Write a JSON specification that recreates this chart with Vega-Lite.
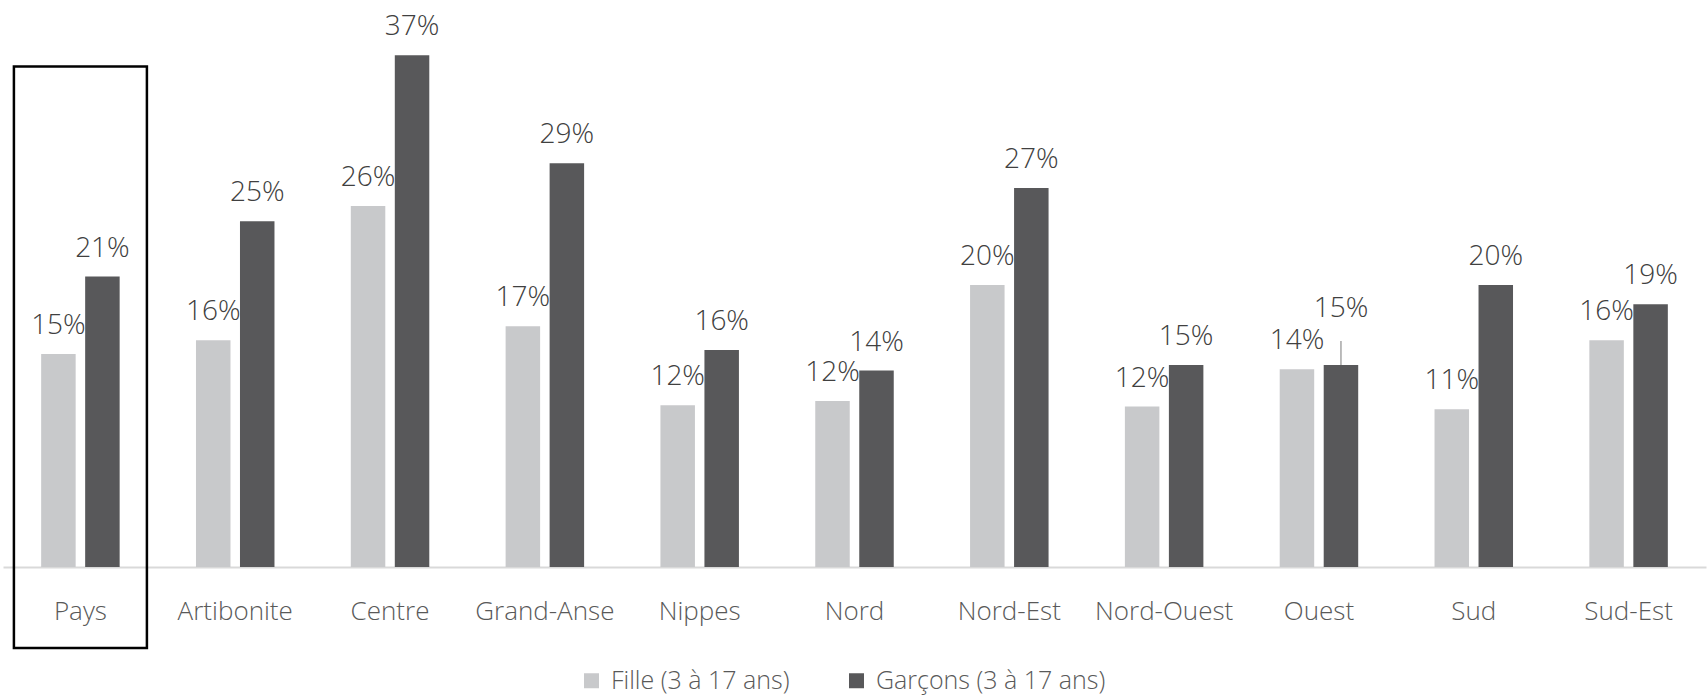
{
  "$schema": "https://vega.github.io/schema/vega-lite/v6.json",
  "width": 1703,
  "height": 567,
  "autosize": "none",
  "padding": {"left": 3, "top": 0, "right": 1, "bottom": 130},
  "background": "white",
  "config": {"view": {"stroke": null}, "font": "Open Sans"},
  "data": {
    "values": [
      {"region": "Pays", "serie": "Fille (3 à 17 ans)", "value": 0.154},
      {"region": "Pays", "serie": "Garçons (3 à 17 ans)", "value": 0.21},
      {"region": "Artibonite", "serie": "Fille (3 à 17 ans)", "value": 0.164},
      {"region": "Artibonite", "serie": "Garçons (3 à 17 ans)", "value": 0.25},
      {"region": "Centre", "serie": "Fille (3 à 17 ans)", "value": 0.261},
      {"region": "Centre", "serie": "Garçons (3 à 17 ans)", "value": 0.37},
      {"region": "Grand-Anse", "serie": "Fille (3 à 17 ans)", "value": 0.174},
      {"region": "Grand-Anse", "serie": "Garçons (3 à 17 ans)", "value": 0.292},
      {"region": "Nippes", "serie": "Fille (3 à 17 ans)", "value": 0.117},
      {"region": "Nippes", "serie": "Garçons (3 à 17 ans)", "value": 0.157},
      {"region": "Nord", "serie": "Fille (3 à 17 ans)", "value": 0.12},
      {"region": "Nord", "serie": "Garçons (3 à 17 ans)", "value": 0.142},
      {"region": "Nord-Est", "serie": "Fille (3 à 17 ans)", "value": 0.204},
      {"region": "Nord-Est", "serie": "Garçons (3 à 17 ans)", "value": 0.274},
      {"region": "Nord-Ouest", "serie": "Fille (3 à 17 ans)", "value": 0.116},
      {"region": "Nord-Ouest", "serie": "Garçons (3 à 17 ans)", "value": 0.146},
      {"region": "Ouest", "serie": "Fille (3 à 17 ans)", "value": 0.143},
      {"region": "Ouest", "serie": "Garçons (3 à 17 ans)", "value": 0.146},
      {"region": "Sud", "serie": "Fille (3 à 17 ans)", "value": 0.114},
      {"region": "Sud", "serie": "Garçons (3 à 17 ans)", "value": 0.204},
      {"region": "Sud-Est", "serie": "Fille (3 à 17 ans)", "value": 0.164},
      {"region": "Sud-Est", "serie": "Garçons (3 à 17 ans)", "value": 0.19}
    ]
  },
  "layer": [
    {
      "mark": {"type": "bar"},
      "encoding": {
        "x": {
          "field": "region", "type": "nominal", "sort": null, "title": null,
          "scale": {"paddingInner": 0.493, "paddingOuter": 0.2465},
          "axis": {
            "domainColor": "#d9d9d9", "domainWidth": 2, "ticks": false, "tickSize": 0,
            "labelFontSize": 26, "labelColor": "#595959", "labelPadding": 31,
            "labelAngle": 0, "labelFont": "Open Sans", "labelFontWeight": 300
          }
        },
        "xOffset": {"field": "serie", "type": "nominal", "sort": null, "scale": {"paddingInner": 0.216}},
        "y": {
          "field": "value", "type": "quantitative",
          "scale": {"domain": [0, 0.41], "nice": false, "zero": true},
          "axis": null
        },
        "color": {
          "field": "serie", "type": "nominal", "sort": null,
          "scale": {"domain": ["Fille (3 à 17 ans)", "Garçons (3 à 17 ans)"], "range": ["#c8c9cb", "#58585a"]},
          "legend": {
            "orient": "none", "legendX": 576, "legendY": 668, "direction": "horizontal",
            "title": null, "symbolType": "square", "symbolSize": 225, "symbolStrokeWidth": 0,
            "labelFontSize": 25, "labelColor": "#595959", "labelFont": "Open Sans",
            "labelFontWeight": 300, "columnPadding": 54, "padding": 0, "labelOffset": 7,
            "labelLimit": 0
          }
        }
      }
    },
    {
      "transform": [{"filter": "datum.region === 'Pays' && datum.serie === 'Fille (3 à 17 ans)'"}],
      "mark": {"type": "bar", "width": 133, "filled": false, "stroke": "#000000", "strokeWidth": 2.5, "fill": null},
      "encoding": {
        "x": {"field": "region", "type": "nominal", "sort": null},
        "y": {"datum": 0.362, "type": "quantitative"},
        "y2": {"datum": -0.0585}
      }
    },
    {
      "transform": [{"filter": "!(datum.region === 'Ouest' && datum.serie === 'Garçons (3 à 17 ans)')"}],
      "mark": {"type": "text", "dy": -20, "baseline": "alphabetic", "fontSize": 28, "fontWeight": 300, "color": "#404040", "font": "Open Sans"},
      "encoding": {
        "x": {"field": "region", "type": "nominal", "sort": null},
        "xOffset": {"field": "serie", "type": "nominal", "sort": null},
        "y": {"field": "value", "type": "quantitative"},
        "text": {"field": "value", "type": "quantitative", "format": ".0%"}
      }
    },
    {
      "transform": [{"filter": "datum.region === 'Ouest' && datum.serie === 'Garçons (3 à 17 ans)'"}],
      "mark": {"type": "text", "dy": -48, "baseline": "alphabetic", "fontSize": 28, "fontWeight": 300, "color": "#404040", "font": "Open Sans"},
      "encoding": {
        "x": {"field": "region", "type": "nominal", "sort": null},
        "xOffset": {"field": "serie", "type": "nominal", "sort": null},
        "y": {"field": "value", "type": "quantitative"},
        "text": {"field": "value", "type": "quantitative", "format": ".0%"}
      }
    },
    {
      "transform": [{"filter": "datum.region === 'Ouest' && datum.serie === 'Garçons (3 à 17 ans)'"}],
      "mark": {"type": "rule", "color": "#a6a6a6", "strokeWidth": 1.5, "y2Offset": -24},
      "encoding": {
        "x": {"field": "region", "type": "nominal", "sort": null},
        "xOffset": {"field": "serie", "type": "nominal", "sort": null},
        "y": {"field": "value", "type": "quantitative"},
        "y2": {"field": "value"}
      }
    }
  ]
}
